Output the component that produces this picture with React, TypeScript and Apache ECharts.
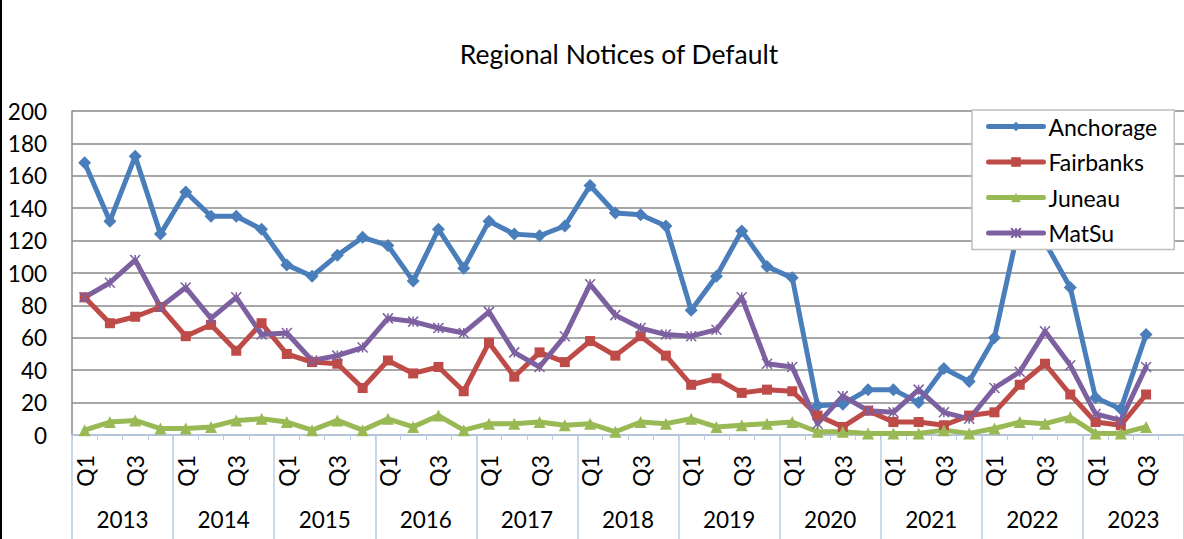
import React, { useEffect, useRef } from "react";
import * as echarts from "echarts";

const years = ["2013", "2014", "2015", "2016", "2017", "2018", "2019", "2020", "2021", "2022", "2023"];
const quarters = ["Q1", "Q2", "Q3", "Q4"];
const yTicks = { min: 0, max: 200, interval: 20 };

const anchorage = [168, 132, 172, 124, 150, 135, 135, 127, 105, 98, 111, 122, 117, 95, 127, 103, 132, 124, 123, 129, 154, 137, 136, 129, 77, 98, 126, 104, 97, 18, 19, 28, 28, 20, 41, 33, 60, 131, 119, 91, 23, 16, 62];
const fairbanks = [85, 69, 73, 79, 61, 68, 52, 69, 50, 45, 44, 29, 46, 38, 42, 27, 57, 36, 51, 45, 58, 49, 61, 49, 31, 35, 26, 28, 27, 12, 5, 15, 8, 8, 6, 12, 14, 31, 44, 25, 8, 6, 25];
const juneau = [3, 8, 9, 4, 4, 5, 9, 10, 8, 3, 9, 3, 10, 5, 12, 3, 7, 7, 8, 6, 7, 2, 8, 7, 10, 5, 6, 7, 8, 2, 2, 1, 1, 1, 3, 1, 4, 8, 7, 11, 1, 1, 5];
const matsu = [85, 94, 108, 79, 91, 72, 85, 62, 63, 46, 49, 54, 72, 70, 66, 63, 76, 51, 42, 61, 93, 74, 66, 62, 61, 65, 85, 44, 42, 7, 24, 15, 14, 28, 14, 10, 29, 39, 64, 43, 13, 9, 42];

const periods = years.flatMap((y) => quarters.map((q) => `${y} ${q}`));

const FONT = "Lato, 'Open Sans', sans-serif";
const AXIS_BLUE = "#b9cde5";
const GRID_GRAY = "#8a8a8a";

const gridLayout = { left: 72, right: -10, top: 111, bottom: 104 };

export default function App() {
  const ref = useRef<HTMLDivElement>(null);
  useEffect(() => {
    if (!ref.current) return;
    const chart = echarts.init(ref.current, undefined, { renderer: "svg" });
    const mk = (name: string, data: number[], color: string, symbol: string, size: number, extra: any = {}) => ({
      name,
      type: "line",
      data,
      xAxisIndex: 0,
      yAxisIndex: 0,
      symbol,
      symbolSize: size,
      showSymbol: true,
      lineStyle: { color, width: 5, cap: "round", join: "round" },
      itemStyle: { color, ...extra },
      emphasis: { disabled: true },
    });
    chart.setOption({
      animation: false,
      backgroundColor: "#fff",
      textStyle: { fontFamily: FONT },
      graphic: [
        { type: "rect", shape: { x: 0, y: 0, width: 2, height: 539 }, style: { fill: "#000" }, z: 100 },
        {
          type: "text",
          x: 619,
          y: 54,
          style: {
            text: "Regional Notices of Default",
            fill: "#000",
            fontSize: 26.5,
            fontFamily: FONT,
            align: "center",
            verticalAlign: "middle",
            textAlign: "center",
            textVerticalAlign: "middle",
          },
        },
      ],
      legend: {
        orient: "vertical",
        left: 972,
        top: 110,
        padding: [5, 17, 5, 14],
        itemGap: 12.5,
        itemWidth: 55,
        itemHeight: 12,
        backgroundColor: "#fff",
        borderColor: "#bfbfbf",
        borderWidth: 1.5,
        lineStyle: { width: 5, cap: "round" },
        textStyle: { fontSize: 23, fontFamily: FONT, color: "#000" },
        data: ["Anchorage", "Fairbanks", "Juneau", "MatSu"],
      },
      grid: [
        { ...gridLayout, containLabel: false },
        { ...gridLayout, containLabel: false },
      ],
      xAxis: [
        {
          type: "category",
          gridIndex: 0,
          data: periods,
          boundaryGap: true,
          position: "bottom",
          axisLine: { show: true, lineStyle: { color: AXIS_BLUE, width: 1.5 } },
          axisTick: { show: true, interval: 0, length: 5, lineStyle: { color: AXIS_BLUE, width: 1 } },
          axisLabel: {
            interval: 1,
            rotate: 90,
            margin: 20,
            fontSize: 23,
            fontFamily: FONT,
            color: "#000",
            formatter: (v: string) => v.split(" ")[1],
          },
          splitLine: { show: false },
        },
        {
          type: "category",
          gridIndex: 1,
          data: years,
          boundaryGap: true,
          position: "bottom",
          axisLine: { show: false },
          axisTick: { show: true, interval: 0, length: 104, lineStyle: { color: AXIS_BLUE, width: 1.5 } },
          axisLabel: { interval: 0, margin: 73, fontSize: 22.5, fontFamily: FONT, color: "#000" },
          splitLine: { show: false },
        },
      ],
      yAxis: [
        {
          type: "value",
          gridIndex: 0,
          min: yTicks.min,
          max: yTicks.max,
          interval: yTicks.interval,
          axisLine: { show: true, lineStyle: { color: GRID_GRAY, width: 1.5 } },
          axisTick: { show: false },
          axisLabel: { margin: 25, fontSize: 22.5, fontFamily: FONT, color: "#000" },
          splitLine: { show: true, lineStyle: { color: GRID_GRAY, width: 1.6 } },
        },
        { type: "value", gridIndex: 1, show: false, min: 0, max: 200 },
      ],
      series: [
        mk("Anchorage", anchorage, "#4a7ebb", "diamond", 13),
        mk("Fairbanks", fairbanks, "#be4b48", "rect", 10),
        mk("Juneau", juneau, "#98b954", "triangle", 12),
        mk("MatSu", matsu, "#7d60a0", "path://M0,0L10,10M10,0L0,10M5,0L5,10", 10, {
          borderColor: "#7d60a0",
          borderWidth: 1.5,
        }),
      ],
    });
    return () => chart.dispose();
  }, []);
  return (
    <div
      ref={ref}
      style={{ position: "fixed", left: 0, top: 0, width: 1184, height: 539, overflow: "hidden" }}
    />
  );
}
